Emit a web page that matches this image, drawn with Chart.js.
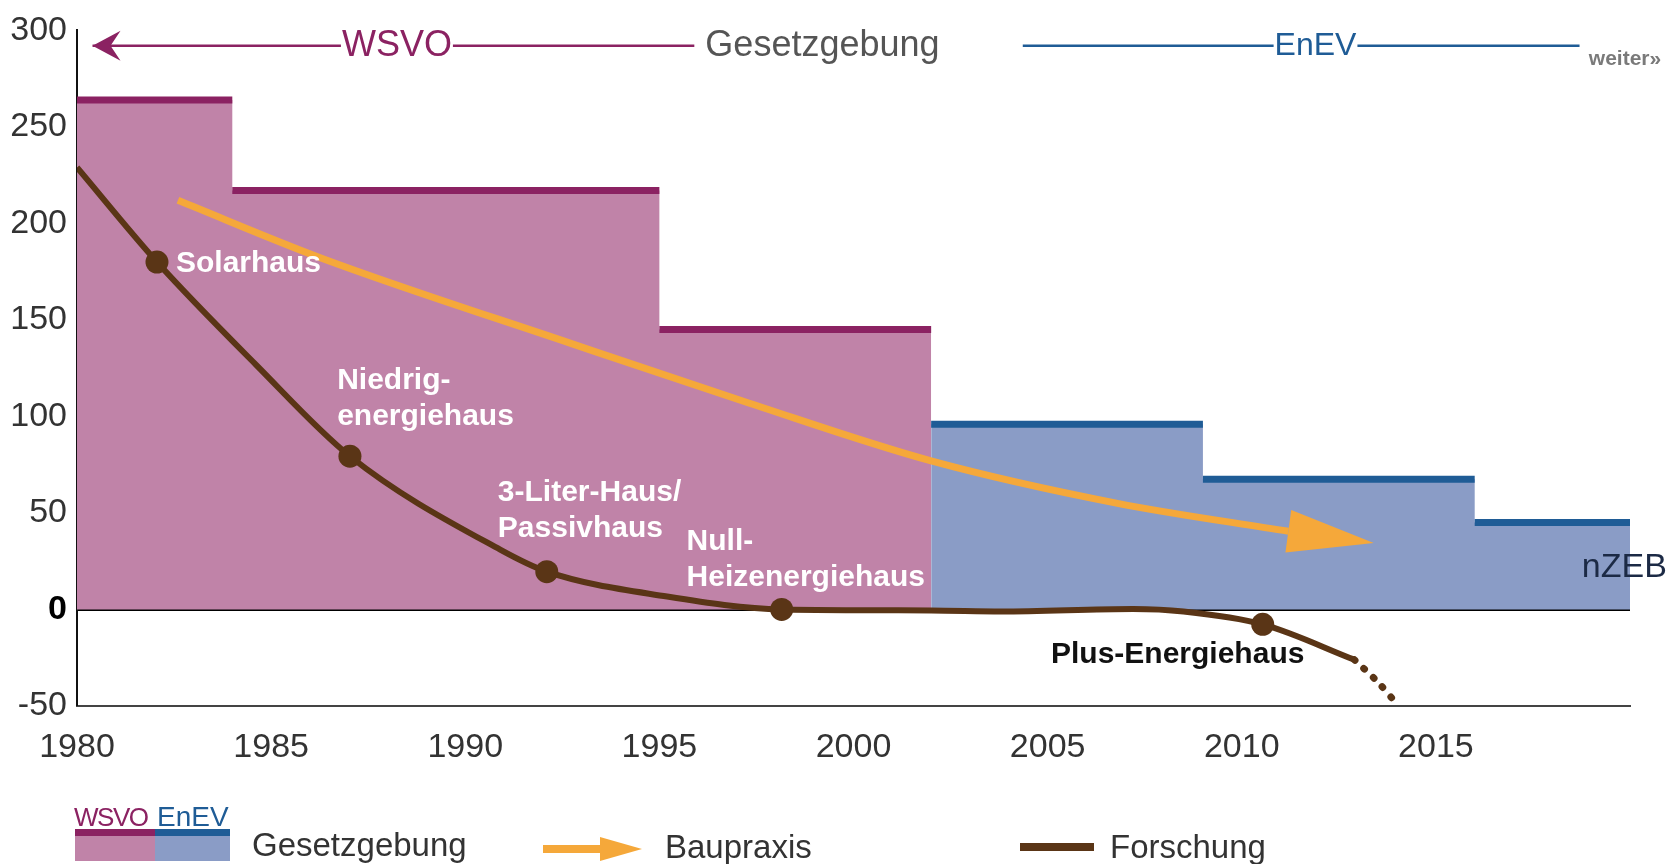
<!DOCTYPE html>
<html lang="de">
<head>
<meta charset="utf-8">
<title>WSVO / EnEV – Gesetzgebung, Baupraxis, Forschung</title>
<script src="https://cdn.jsdelivr.net/npm/chart.js@4.4.1/dist/chart.umd.min.js"></script>
<style>
  html, body { margin: 0; padding: 0; background: #fff; }
  #wrap { position: relative; width: 1674px; height: 864px; overflow: hidden; font-family: 'Liberation Sans', Arial, sans-serif; }
  #chart { position: absolute; left: 0; top: 0; }
  .lg { position: absolute; white-space: nowrap; line-height: 1; }
  .txt { font-size: 33px; color: #333; }
</style>
</head>
<body>
<div id="wrap">
  <canvas id="chart" width="1674" height="864"></canvas>

  <!-- legend -->
  <div class="lg" style="left:74px; top:804px; font-size:26px; letter-spacing:-1.5px; color:#8b2262;">WSVO</div>
  <div class="lg" style="left:157px; top:803px; font-size:28px; color:#1f5c96;">EnEV</div>
  <div class="lg" style="left:75px; top:829px; width:80px; height:7px; background:#8b2262;"></div>
  <div class="lg" style="left:75px; top:836px; width:80px; height:25px; background:#c083a8;"></div>
  <div class="lg" style="left:155px; top:829px; width:75px; height:7px; background:#1f5c96;"></div>
  <div class="lg" style="left:155px; top:836px; width:75px; height:25px; background:#8a9cc6;"></div>
  <div class="lg txt" style="left:252px; top:828px;">Gesetzgebung</div>

  <svg class="lg" style="left:543px; top:837px;" width="100" height="24">
    <line x1="0" y1="12" x2="62" y2="12" stroke="#f5a83a" stroke-width="8"/>
    <polygon points="57,0 99,12 57,24" fill="#f5a83a"/>
  </svg>
  <div class="lg txt" style="left:665px; top:830px;">Baupraxis</div>

  <div class="lg" style="left:1020px; top:843px; width:74px; height:8px; background:#5a3516;"></div>
  <div class="lg txt" style="left:1110px; top:830px;">Forschung</div>
</div>

<script>
  // Gesetzgebung: Anforderungsniveau je Periode (Start, Ende, Wert)
  var wsvoStart = [1980, 1984, 1995];
  var wsvoEnd = [1984, 1995, 2002];
  var wsvoLevel = [264, 217, 145];

  var enevStart = [2002, 2009, 2016];
  var enevEnd = [2009, 2016, 2020];
  var enevLevel = [96, 67.5, 45];

  // Baupraxis (Pfeil), letzter Wert = Pfeilansatz, bauTip = Spitze
  var bauYears = [1982.6, 1986.3, 1992.7, 1997.3, 2002.0, 2006.8, 2011.2];
  var bauValues = [212, 182, 138, 107, 77, 55, 40.5];
  var bauTip = [2013.4, 34.5];

  // Forschung
  var forschYears = [1980, 1982.06, 1984.6, 1987.03, 1990.9, 1992.1, 1995.2, 1998.15, 2002, 2003.8, 2007.2, 2008.5, 2010.54, 2012.9];
  var forschValues = [229, 180, 127, 79.4, 31, 19.6, 6.7, 0, -0.5, -1, 0.3, -1, -7.7, -26];
  var forschTailYears = [2012.9, 2013.5, 2014.0];
  var forschTailValues = [-26, -37.5, -49];

  // Meilensteine
  var milestoneYears = [1982.06, 1987.03, 1992.1, 1998.15, 2010.54];
  var milestoneValues = [180, 79.4, 19.6, 0, -7.7];
  var milestoneNames = [['Solarhaus'], ['Niedrig-', 'energiehaus'], ['3-Liter-Haus/', 'Passivhaus'], ['Null-', 'Heizenergiehaus'], ['Plus-Energiehaus']];

  var xTicks = [1980, 1985, 1990, 1995, 2000, 2005, 2010, 2015];
  var yTicks = [-50, 0, 50, 100, 150, 200, 250, 300];

  var FONT = "'Liberation Sans', Arial, sans-serif";
  var PINK = '#c083a8', MAGENTA = '#8b2262', BLUE = '#8a9cc6', DARKBLUE = '#1f5c96';
  var ORANGE = '#f5a83a', BROWN = '#5a3516';

  function toPoints(xs, ys){
    return xs.map((x, i) => ({x: x, y: ys[i]}));
  }

  // stepped fill area from start/end/level arrays
  function stepPoints(starts, ends, levels){
    var pts = starts.map((s, i) => ({x: s, y: levels[i]}));
    pts.push({x: ends[ends.length - 1], y: levels[levels.length - 1]});
    return pts;
  }

  // horizontal bars on top of each step, separated by gaps
  function levelLines(starts, ends, levels){
    var pts = [];
    for(var i = 0; i < starts.length; i++){
      pts.push({x: starts[i], y: levels[i]});
      pts.push({x: ends[i], y: levels[i]});
      pts.push({x: ends[i], y: null});
    }
    return pts;
  }

  // label anchors (data coords) for the milestone texts
  var labelAnchors = [
    {x: 1982.55, y: 179, align: 'left', color: '#fff'},
    {x: 1986.7, y: 118.6, align: 'left', color: '#fff'},
    {x: 1990.84, y: 60.3, align: 'left', color: '#fff'},
    {x: 1995.7, y: 35, align: 'left', color: '#fff'},
    {x: 2008.35, y: -23.2, align: 'center', color: '#111'}
  ];

  var annotations = {
    id: 'annotations',
    afterDatasetsDraw(chart){
      var ctx = chart.ctx;
      var xs = chart.scales.x, ys = chart.scales.y;
      ctx.save();

      // milestone labels
      ctx.font = 'bold 30px ' + FONT;
      ctx.textBaseline = 'middle';
      labelAnchors.forEach((a, i) => {
        ctx.fillStyle = a.color;
        ctx.textAlign = a.align;
        milestoneNames[i].forEach((line, j) => {
          ctx.fillText(line, xs.getPixelForValue(a.x), ys.getPixelForValue(a.y) + j * 36);
        });
      });

      // nZEB
      ctx.font = '34px ' + FONT;
      ctx.fillStyle = '#1c2a45';
      ctx.textAlign = 'right';
      ctx.fillText('nZEB', xs.getPixelForValue(2020.95), ys.getPixelForValue(21.6));

      // Baupraxis arrow head
      var bx = xs.getPixelForValue(bauYears[bauYears.length - 1]);
      var by = ys.getPixelForValue(bauValues[bauValues.length - 1]);
      var tx = xs.getPixelForValue(bauTip[0]);
      var ty = ys.getPixelForValue(bauTip[1]);
      var ang = Math.atan2(ty - by, tx - bx);
      var hw = 21.5;
      ctx.fillStyle = ORANGE;
      ctx.beginPath();
      ctx.moveTo(tx, ty);
      ctx.lineTo(bx + Math.sin(ang) * hw, by - Math.cos(ang) * hw);
      ctx.lineTo(bx - Math.sin(ang) * hw, by + Math.cos(ang) * hw);
      ctx.closePath();
      ctx.fill();

      // top row: WSVO <—— Gesetzgebung ——— EnEV ———
      var rowY = ys.getPixelForValue(292);
      ctx.lineWidth = 2.5;
      function rowLine(from, to, textAt, text, color, font){
        ctx.font = font;
        var w = ctx.measureText(text).width;
        var c = xs.getPixelForValue(textAt);
        ctx.strokeStyle = color;
        ctx.beginPath();
        ctx.moveTo(xs.getPixelForValue(from), rowY);
        ctx.lineTo(c - w / 2 - 1, rowY);
        ctx.moveTo(c + w / 2 + 1, rowY);
        ctx.lineTo(xs.getPixelForValue(to), rowY);
        ctx.stroke();
        ctx.fillStyle = color;
        ctx.textAlign = 'center';
        ctx.fillText(text, c, rowY);
      }
      rowLine(1980.4, 1995.9, 1988.24, 'WSVO', MAGENTA, '36px ' + FONT);
      rowLine(2004.36, 2018.7, 2011.9, 'EnEV', DARKBLUE, '32px ' + FONT);

      var ax = xs.getPixelForValue(1980.4);
      ctx.fillStyle = MAGENTA;
      ctx.beginPath();
      ctx.moveTo(ax, rowY);
      ctx.lineTo(ax + 28, rowY - 15);
      ctx.lineTo(ax + 18, rowY);
      ctx.lineTo(ax + 28, rowY + 15);
      ctx.closePath();
      ctx.fill();

      ctx.font = '36px ' + FONT;
      ctx.fillStyle = '#555';
      ctx.textAlign = 'center';
      ctx.fillText('Gesetzgebung', xs.getPixelForValue(1999.2), rowY);

      ctx.font = 'bold 21px ' + FONT;
      ctx.fillStyle = '#7a7a7a';
      ctx.textAlign = 'left';
      ctx.fillText('weiter\u00bb', xs.getPixelForValue(2018.94), ys.getPixelForValue(285));

      ctx.restore();
    }
  };

  var ctx = document.getElementById('chart').getContext('2d');

  var chart = new Chart(ctx, {
    type: 'line',
    data: {
      datasets: [
        {
          label: 'WSVO',
          data: stepPoints(wsvoStart, wsvoEnd, wsvoLevel),
          stepped: 'before',
          fill: 'origin',
          backgroundColor: PINK,
          borderWidth: 0,
          pointRadius: 0,
          order: 6
        },
        {
          label: 'EnEV',
          data: stepPoints(enevStart, enevEnd, enevLevel),
          stepped: 'before',
          fill: 'origin',
          backgroundColor: BLUE,
          borderWidth: 0,
          pointRadius: 0,
          order: 6
        },
        {
          label: 'WSVO Niveau',
          data: levelLines(wsvoStart, wsvoEnd, wsvoLevel),
          borderColor: MAGENTA,
          borderWidth: 7,
          borderCapStyle: 'butt',
          spanGaps: false,
          pointRadius: 0,
          fill: false,
          order: 5
        },
        {
          label: 'EnEV Niveau',
          data: levelLines(enevStart, enevEnd, enevLevel),
          borderColor: DARKBLUE,
          borderWidth: 7,
          borderCapStyle: 'butt',
          spanGaps: false,
          pointRadius: 0,
          fill: false,
          order: 5
        },
        {
          label: 'Baupraxis',
          data: toPoints(bauYears, bauValues),
          borderColor: ORANGE,
          borderWidth: 7,
          cubicInterpolationMode: 'monotone',
          pointRadius: 0,
          fill: false,
          order: 3
        },
        {
          label: 'Forschung',
          data: toPoints(forschYears, forschValues),
          borderColor: BROWN,
          borderWidth: 6,
          cubicInterpolationMode: 'monotone',
          pointRadius: 0,
          fill: false,
          order: 2
        },
        {
          label: 'Forschung (Ausblick)',
          data: toPoints(forschTailYears, forschTailValues),
          borderColor: BROWN,
          borderWidth: 7,
          borderDash: [1, 12],
          borderCapStyle: 'round',
          tension: 0.3,
          pointRadius: 0,
          fill: false,
          order: 2
        },
        {
          label: 'Meilensteine',
          data: toPoints(milestoneYears, milestoneValues),
          showLine: false,
          pointRadius: 11.5,
          pointBackgroundColor: BROWN,
          pointBorderWidth: 0,
          order: 1
        }
      ]
    },
    options: {
      responsive: false,
      devicePixelRatio: 1,
      animation: false,
      layout: {
        padding: {top: 28, right: 44, left: 0, bottom: 0}
      },
      plugins: {
        legend: {display: false},
        tooltip: {enabled: false}
      },
      scales: {
        x: {
          type: 'linear',
          min: 1980,
          max: 2020,
          afterFit: (s) => { s.height = 158; },
          afterBuildTicks: (s) => { s.ticks = xTicks.map(v => ({value: v})); },
          grid: {display: false},
          border: {display: true, color: '#444', width: 2},
          ticks: {
            padding: 13,
            color: '#333',
            font: {family: FONT, size: 34},
            callback: (v) => String(v)
          }
        },
        y: {
          min: -50,
          max: 300,
          afterFit: (s) => { s.width = 77; },
          afterBuildTicks: (s) => { s.ticks = yTicks.map(v => ({value: v})); },
          grid: {
            drawTicks: false,
            color: (c) => c.tick && c.tick.value === 0 ? '#000' : 'rgba(0,0,0,0)',
            lineWidth: (c) => c.tick && c.tick.value === 0 ? 3 : 0
          },
          border: {display: true, color: '#111', width: 2},
          ticks: {
            padding: 10,
            color: (c) => c.tick && c.tick.value === 0 ? '#000' : '#333',
            font: (c) => ({family: FONT, size: 34, weight: c.tick && c.tick.value === 0 ? 'bold' : 'normal'}),
            callback: (v) => String(v)
          }
        }
      }
    },
    plugins: [annotations]
  });
</script>
</body>
</html>
